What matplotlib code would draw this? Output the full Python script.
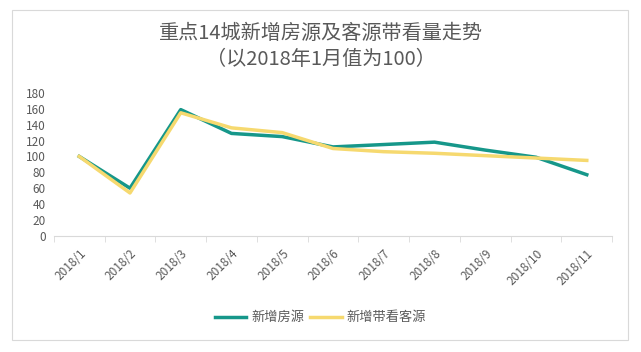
import matplotlib.pyplot as plt
from matplotlib.patches import Rectangle

plt.rcParams['font.family'] = ['Noto Sans CJK SC', 'DejaVu Sans']

months = ["2018/1", "2018/2", "2018/3", "2018/4", "2018/5", "2018/6",
          "2018/7", "2018/8", "2018/9", "2018/10", "2018/11"]
new_listings = [100, 60, 159, 129, 125, 112, 115, 118, 108, 99, 77]
new_viewings = [100, 54, 155, 136, 130, 110, 106, 104, 101, 98, 95]

green = "#16978a"
yellow = "#f6d96f"
gray = "#595959"

fig = plt.figure(figsize=(6.41, 3.52), dpi=100)
fig.patches.append(Rectangle((12 / 641, 12 / 352), 616 / 641, 330 / 352,
                             transform=fig.transFigure, fill=False,
                             edgecolor="#d9d9d9", linewidth=0.8))

ax = fig.add_axes([0.084, 0.330, 0.871, 0.406])
x = list(range(len(months)))
ax.plot(x, new_listings, color=green, linewidth=2.5, label="新增房源")
ax.plot(x, new_viewings, color=yellow, linewidth=2.5, label="新增带看客源")

ax.set_xlim(-0.5, len(months) - 0.5)
ax.set_ylim(0, 180)
ax.set_yticks(range(0, 181, 20))
ax.set_xticks(x)
ax.set_xticklabels(months, rotation=45, ha="right", rotation_mode="anchor",
                   fontsize=8.5, color=gray)
ax.set_xticks([i - 0.5 for i in range(len(months) + 1)], minor=True)
ax.tick_params(axis="x", which="major", length=0, pad=8)
ax.tick_params(axis="x", which="minor", length=4, color="#d9d9d9")
ax.tick_params(axis="y", length=0, labelsize=8.5, labelcolor=gray, pad=6)

for side in ["top", "right", "left"]:
    ax.spines[side].set_visible(False)
ax.spines["bottom"].set_color("#d9d9d9")

fig.text(0.5, 0.905, "重点14城新增房源及客源带看量走势", ha="center", va="center",
         fontsize=14.5, color=gray)
fig.text(0.5, 0.830, "（以2018年1月值为100）", ha="center", va="center",
         fontsize=14.5, color=gray)

fig.legend(loc="center", bbox_to_anchor=(0.5, 0.097), ncol=2, frameon=False,
           fontsize=9.5, labelcolor=gray, handlelength=2.4, columnspacing=0.4,
           handletextpad=0.4)

fig.savefig("out.png", dpi=100)
